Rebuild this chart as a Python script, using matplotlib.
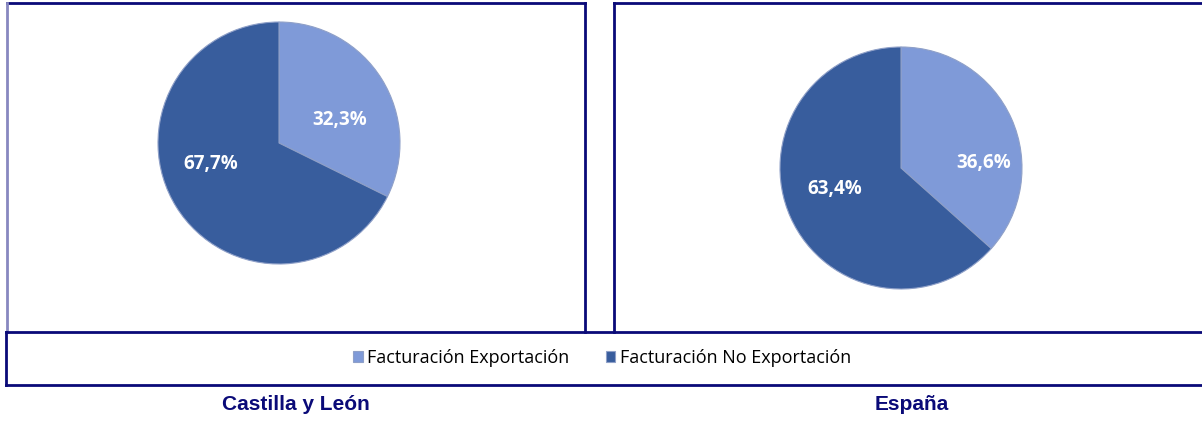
import matplotlib
matplotlib.use("Agg")
import matplotlib.pyplot as plt
from matplotlib.lines import Line2D

# data
categorias = ["Facturación Exportación", "Facturación No Exportación"]
castilla_leon = [32.3, 67.7]
espana = [36.6, 63.4]
titulos = ["Castilla y León", "España"]
colores = ["#7f9ad8", "#385d9d"]

W, H = 1202, 421
fig = plt.figure(figsize=(W / 100, H / 100), dpi=100)
fig.patch.set_facecolor("white")

navy = "#0a0a78"


def fx(px):
    return px / W


def fy(py):
    return 1 - py / H


def line(x0, y0, x1, y1, color=navy, lw=2):
    fig.add_artist(Line2D([fx(x0), fx(x1)], [fy(y0), fy(y1)],
                          transform=fig.transFigure, color=color, lw=lw))


def pie_panel(cx, cy, r, values, label_pos):
    ax = fig.add_axes([fx(cx - r), fy(cy + r), (2 * r) / W, (2 * r) / H])
    wedges, texts, autotexts = ax.pie(
        values, colors=colores, startangle=90, counterclock=False,
        autopct=lambda p: f"{p:.1f}%".replace(".", ","), pctdistance=0.58,
        wedgeprops=dict(edgecolor="#8fa0c8", linewidth=0.8),
        textprops=dict(color="white", fontsize=13.5, fontweight="bold",
                       family="Open Sans"))
    # excel-like label placement (in radius units)
    for t, pos in zip(autotexts, label_pos):
        t.set_position(pos)
    ax.set_xlim(-1, 1)
    ax.set_ylim(-1, 1)
    ax.set_aspect("equal")
    ax.axis("off")
    return wedges


wedges = pie_panel(279, 143, 121, castilla_leon, [(0.50, 0.19), (-0.56, -0.17)])
pie_panel(901, 168, 121, espana, [(0.68, 0.04), (-0.55, -0.17)])

# panel frames
line(7, 3, 585, 3)
line(585, 3, 585, 332)
line(7, 3, 7, 332, color="#8888c0", lw=2)
line(614, 3, 1202, 3)
line(614, 3, 614, 332)
# legend box
line(6, 332, 1202, 332)
line(6, 385, 1202, 385)
line(6, 332, 6, 385)

fig.legend(wedges, categorias, loc="center", bbox_to_anchor=(fx(602), fy(358)),
           ncol=2, frameon=False, handlelength=0.55, handleheight=0.55,
           handletextpad=0.25, columnspacing=2.0,
           prop=dict(family="Open Sans", size=13))

fig.text(fx(296), fy(404), titulos[0], ha="center", va="center", color=navy,
         fontsize=15, fontweight="bold", family="Liberation Sans")
fig.text(fx(912), fy(404), titulos[1], ha="center", va="center", color=navy,
         fontsize=15, fontweight="bold", family="Liberation Sans")

fig.savefig("out.png", dpi=100)
